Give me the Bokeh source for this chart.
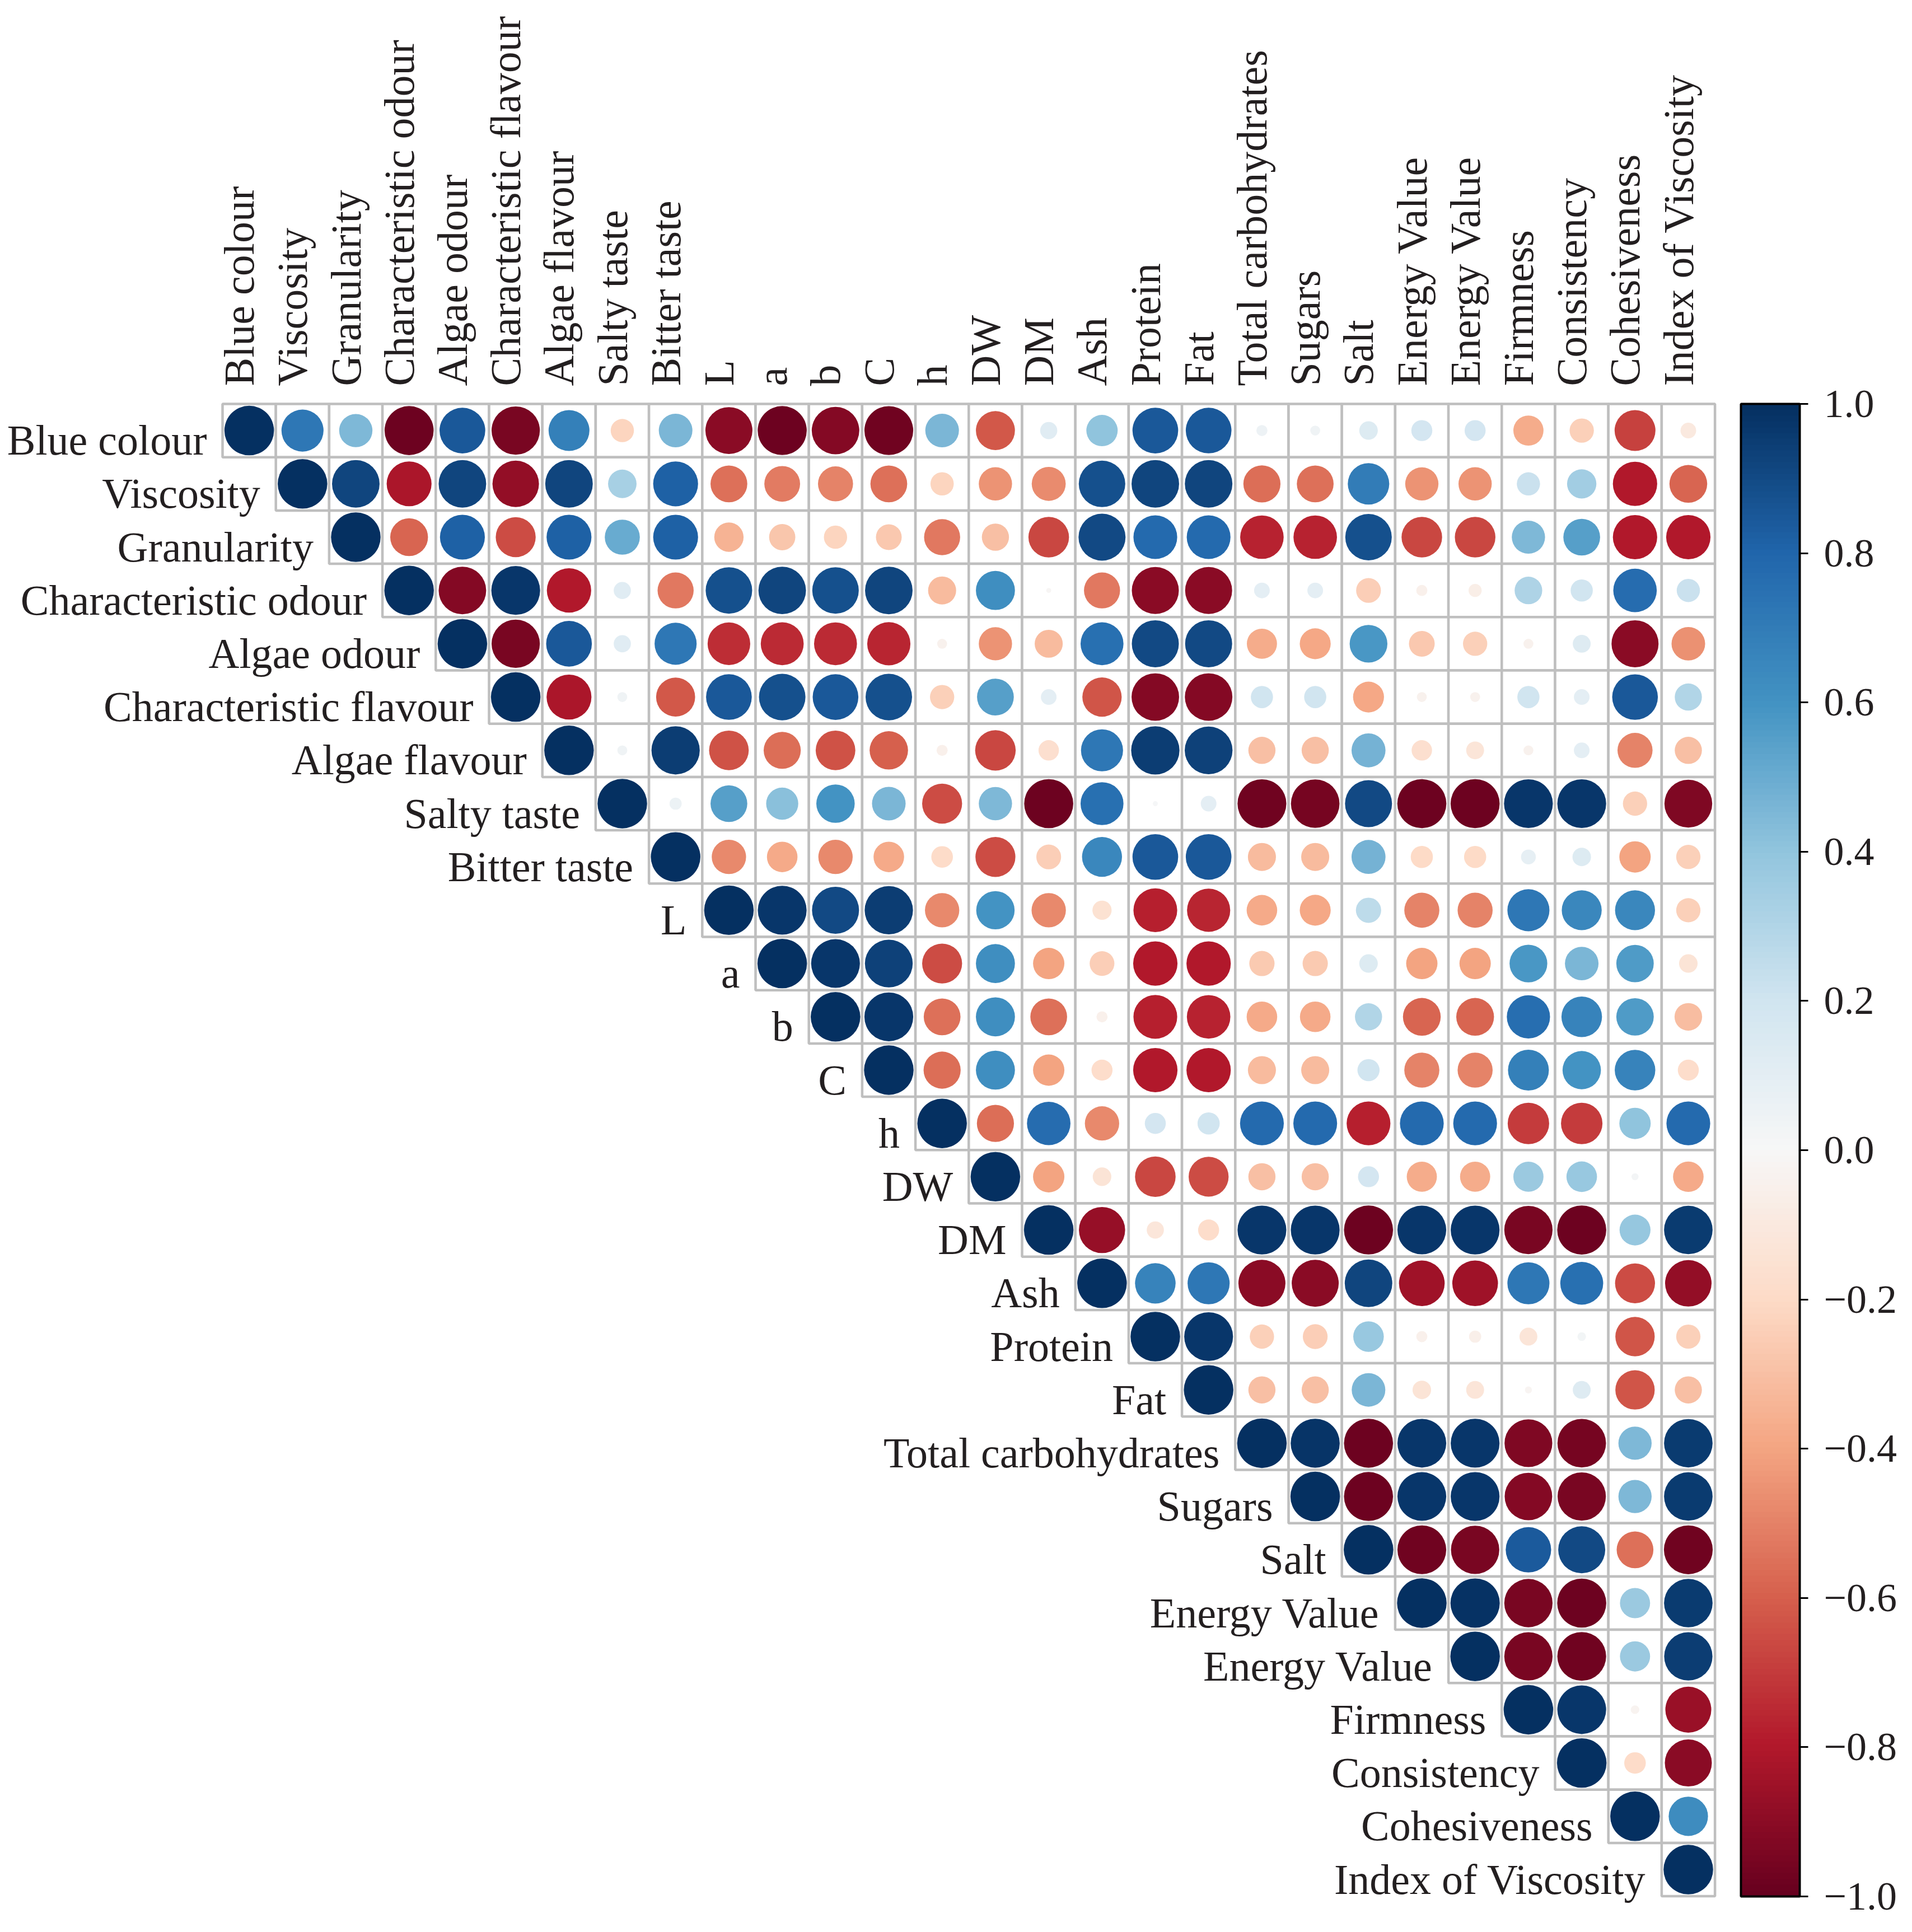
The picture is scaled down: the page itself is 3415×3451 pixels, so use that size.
import numpy as np
from bokeh.plotting import figure
from bokeh.models import ColumnDataSource, Range1d, LinearColorMapper, ColorBar, FixedTicker
from bokeh.transform import transform
from bokeh.core.properties import value
from bokeh.embed import file_html
from bokeh.resources import INLINE

variables = ["Blue colour", "Viscosity", "Granularity", "Characteristic odour", "Algae odour",
             "Characteristic flavour", "Algae flavour", "Salty taste", "Bitter taste", "L", "a", "b",
             "C", "h", "DW", "DM", "Ash", "Protein", "Fat", "Total carbohydrates", "Sugars", "Salt",
             "Energy Value", "Energy Value", "Firmness", "Consistency", "Cohesiveness",
             "Index of Viscosity"]

# upper-triangle correlations, row i lists columns i..27
corr_blue_colour = [1.00, 0.72, 0.45, -0.98, 0.85, -0.95, 0.68, -0.22, 0.46, -0.90, -0.98, -0.92, -0.97, 0.46,
                    -0.62, 0.12, 0.40, 0.85, 0.85, 0.05, 0.04, 0.14, 0.18, 0.18, -0.37, -0.24, -0.68, -0.10]
corr_viscosity = [1.00, 0.92, -0.82, 0.92, -0.88, 0.92, 0.33, 0.82, -0.55, -0.52, -0.50, -0.55, -0.22, -0.45,
                  -0.47, 0.88, 0.92, 0.92, -0.56, -0.55, 0.70, -0.45, -0.45, 0.22, 0.35, -0.80, -0.58]
corr_granularity = [1.00, -0.58, 0.82, -0.65, 0.82, 0.50, 0.82, -0.35, -0.28, -0.22, -0.27, -0.53, -0.30, -0.67,
                    0.90, 0.78, 0.78, -0.77, -0.77, 0.88, -0.67, -0.67, 0.45, 0.55, -0.80, -0.80]
corr_char_odour = [1.00, -0.92, 0.97, -0.80, 0.12, -0.53, 0.88, 0.92, 0.88, 0.92, -0.32, 0.62, -0.01, -0.53,
                   -0.90, -0.90, 0.10, 0.10, -0.25, -0.05, -0.07, 0.31, 0.20, 0.77, 0.22]
corr_algae_odour = [1.00, -0.95, 0.85, 0.12, 0.72, -0.74, -0.75, -0.75, -0.76, -0.04, -0.45, -0.32, 0.75,
                    0.90, 0.90, -0.37, -0.39, 0.58, -0.27, -0.24, -0.04, 0.13, -0.90, -0.46]
corr_char_flavour = [1.00, -0.82, 0.04, -0.62, 0.85, 0.88, 0.85, 0.88, -0.24, 0.55, 0.10, -0.63, -0.92,
                     -0.92, 0.20, 0.20, -0.39, -0.04, -0.04, 0.20, 0.10, 0.85, 0.30]
corr_algae_flavour = [1.00, 0.04, 0.95, -0.64, -0.56, -0.64, -0.60, -0.05, -0.67, -0.17, 0.72, 0.95, 0.93,
                      -0.30, -0.30, 0.47, -0.17, -0.13, -0.04, 0.10, -0.50, -0.30]
corr_salty_taste = [1.00, 0.06, 0.55, 0.42, 0.60, 0.46, -0.65, 0.45, -0.98, 0.75, 0.01, 0.10, -0.97, -0.96,
                    0.90, -0.98, -0.98, 0.97, 0.97, -0.24, -0.93]
corr_bitter_taste = [1.00, -0.48, -0.38, -0.48, -0.38, -0.19, -0.65, -0.25, 0.65, 0.85, 0.85, -0.32, -0.32,
                     0.47, -0.20, -0.20, 0.09, 0.14, -0.40, -0.24]
corr_l = [1.00, 0.97, 0.90, 0.95, -0.48, 0.60, -0.48, -0.15, -0.78, -0.76, -0.38, -0.39, 0.26, -0.50, -0.50,
          0.72, 0.65, 0.65, -0.24]
corr_a = [1.00, 0.97, 0.93, -0.65, 0.62, -0.40, -0.25, -0.80, -0.80, -0.26, -0.26, 0.14, -0.40, -0.40, 0.58,
          0.46, 0.57, -0.14]
corr_b = [1.00, 0.97, -0.55, 0.62, -0.55, -0.05, -0.78, -0.77, -0.38, -0.38, 0.30, -0.58, -0.58, 0.76, 0.67,
          0.57, -0.31]
corr_c = [1.00, -0.56, 0.62, -0.40, -0.18, -0.80, -0.80, -0.32, -0.32, 0.20, -0.50, -0.50, 0.68, 0.60, 0.67,
          -0.18]
corr_h = [1.00, -0.56, 0.77, -0.48, 0.18, 0.20, 0.78, 0.78, -0.78, 0.78, 0.78, -0.70, -0.70, 0.40, 0.78]
corr_dw = [1.00, -0.40, -0.14, -0.67, -0.65, -0.30, -0.30, 0.18, -0.37, -0.37, 0.37, 0.38, 0.02, -0.38]
corr_dm = [1.00, -0.87, -0.12, -0.18, 0.97, 0.97, -0.98, 0.97, 0.97, -0.95, -0.98, 0.39, 0.96]
corr_ash = [1.00, 0.67, 0.72, -0.90, -0.90, 0.92, -0.85, -0.85, 0.72, 0.75, -0.65, -0.88]
corr_protein = [1.00, 0.97, -0.24, -0.25, 0.38, -0.05, -0.06, -0.13, 0.03, -0.63, -0.24]
corr_fat = [1.00, -0.30, -0.30, 0.46, -0.14, -0.13, -0.02, 0.13, -0.63, -0.30]
corr_total_carbs = [1.00, 0.98, -0.98, 0.97, 0.97, -0.93, -0.96, 0.45, 0.96]
corr_sugars = [1.00, -0.98, 0.97, 0.97, -0.92, -0.95, 0.45, 0.96]
corr_salt = [1.00, -0.97, -0.95, 0.84, 0.90, -0.55, -0.97]
corr_energy_1 = [1.00, 0.99, -0.95, -0.98, 0.37, 0.96]
corr_energy_2 = [1.00, -0.95, -0.97, 0.37, 0.95]
corr_firmness = [1.00, 0.97, -0.03, -0.86]
corr_consistency = [1.00, -0.19, -0.90]
corr_cohesiveness = [1.00, 0.63]
corr_index_viscosity = [1.00]

colorbar_ticks = [-1.0, -0.8, -0.6, -0.4, -0.2, 0.0, 0.2, 0.4, 0.6, 0.8, 1.0]
colorbar_labels = ["\u22121.0", "\u22120.8", "\u22120.6", "\u22120.4", "\u22120.2", "0.0", "0.2", "0.4",
                   "0.6", "0.8", "1.0"]

corr_rows = [corr_blue_colour, corr_viscosity, corr_granularity, corr_char_odour, corr_algae_odour,
             corr_char_flavour, corr_algae_flavour, corr_salty_taste, corr_bitter_taste, corr_l, corr_a,
             corr_b, corr_c, corr_h, corr_dw, corr_dm, corr_ash, corr_protein, corr_fat, corr_total_carbs,
             corr_sugars, corr_salt, corr_energy_1, corr_energy_2, corr_firmness, corr_consistency,
             corr_cohesiveness, corr_index_viscosity]

n = len(variables)
xs, ys, rs, ds = [], [], [], []
for i, row in enumerate(corr_rows):
    for k, r in enumerate(row):
        j = i + k
        xs.append(j + 0.5)
        ys.append(i + 0.5)
        rs.append(r)
        ds.append(0.93 * np.sqrt(abs(r)))
cells = ColumnDataSource(dict(x=xs, y=ys, r=rs, d=ds))

# RdBu colormap
rdbu = ["#67001f", "#b2182b", "#d6604d", "#f4a582", "#fddbc7", "#f7f7f7",
        "#d1e5f0", "#92c5de", "#4393c3", "#2166ac", "#053061"]
anchors = np.array([[int(c[i:i + 2], 16) for i in (1, 3, 5)] for c in rdbu], dtype=float)
pos = np.linspace(0, 1, len(rdbu))
tt = np.linspace(0, 1, 256)
palette = []
for t in tt:
    rgb = [np.interp(t, pos, anchors[:, c]) for c in range(3)]
    palette.append("#%02x%02x%02x" % tuple(int(round(v)) for v in rgb))
mapper = LinearColorMapper(palette=palette, low=-1, high=1)

W, H = 3399, 3435
cell = 95.2
gx0, gy0 = 397, 721
p = figure(width=W, height=H, x_range=Range1d(-gx0 / cell, (W - gx0) / cell),
           y_range=Range1d((H - gy0) / cell, -gy0 / cell),
           output_backend="svg", toolbar_location=None, min_border=0,
           x_axis_location=None, y_axis_location=None)
p.grid.visible = False
p.outline_line_color = None
p.background_fill_color = "white"

p.rect(x="x", y="y", width=1, height=1, source=cells, fill_color="white",
       line_color="#bfbfbf", line_width=4.5)
p.ellipse(x="x", y="y", width="d", height="d", source=cells,
          fill_color=transform("r", mapper), line_color=None)

font_name = "Liberation Serif"
font = value(font_name)
text_color = "#231f20"
fs = "76px"
row_src = ColumnDataSource(dict(x=[i - 28 / cell for i in range(n)],
                                y=[i + 0.5 + 17 / cell for i in range(n)], t=variables))
p.text(x="x", y="y", text="t", source=row_src, text_font=font, text_font_size=fs,
       text_color=text_color, text_align="right", text_baseline="middle")
col_src = ColumnDataSource(dict(x=[j + 0.5 - 18 / cell for j in range(n)], y=[-32 / cell] * n,
                                t=variables))
p.text(x="x", y="y", text="t", source=col_src, text_font=font, text_font_size=fs,
       text_color=text_color, text_align="left", text_baseline="middle", angle=np.pi / 2)

bar_h = int(round(n * cell))
cb = ColorBar(color_mapper=mapper, ticker=FixedTicker(ticks=colorbar_ticks),
              major_label_overrides={t: l for t, l in zip(colorbar_ticks, colorbar_labels)},
              location=(3109, H - (gy0 + bar_h)), width=105, height=bar_h, padding=0, margin=0,
              bar_line_color="black", bar_line_width=4, major_tick_out=15, major_tick_in=0,
              major_tick_line_color="black", major_tick_line_width=3, minor_tick_line_color=None,
              label_standoff=28, major_label_text_font=font_name, major_label_text_font_size="72px",
              major_label_text_color=text_color, background_fill_color=None, border_line_color=None)
p.add_layout(cb)

open("out.html", "w").write(file_html(p, INLINE))
